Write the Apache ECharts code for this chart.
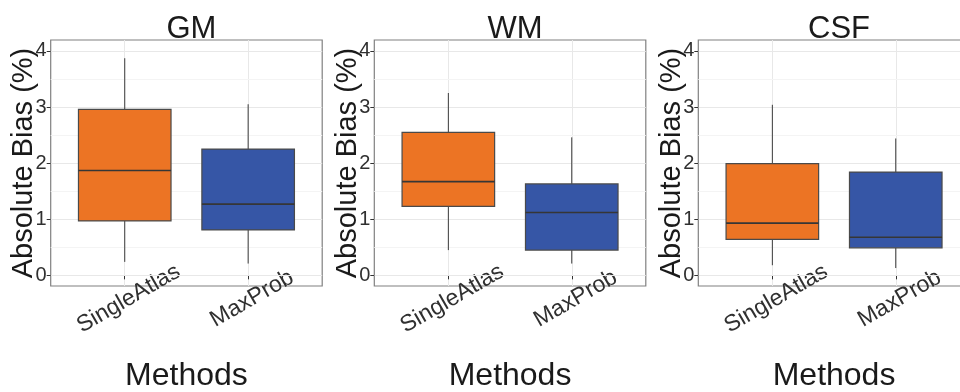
<!DOCTYPE html>
<html>
<head>
<meta charset="utf-8">
<script src="https://cdn.jsdelivr.net/npm/echarts@6/dist/echarts.min.js"></script>
<style>html,body{margin:0;padding:0;background:#fff;}#c{width:960px;height:392px;}</style>
</head>
<body>
<div id="c"></div>
<script>
// ---- data ----
var categories = ['SingleAtlas', 'MaxProb'];
var panelTitles = ['GM', 'WM', 'CSF'];
// [min, Q1, median, Q3, max]
var gmSingleAtlas = [0.24, 0.97, 1.87, 2.96, 3.87];
var gmMaxProb     = [0.21, 0.81, 1.27, 2.25, 3.05];
var wmSingleAtlas = [0.45, 1.23, 1.67, 2.55, 3.25];
var wmMaxProb     = [0.21, 0.45, 1.12, 1.63, 2.46];
var csfSingleAtlas = [0.18, 0.64, 0.93, 1.99, 3.04];
var csfMaxProb     = [0.13, 0.49, 0.68, 1.84, 2.44];
var yTicks = [0, 1, 2, 3, 4];
var yMinorTicks = [0.5, 1.5, 2.5, 3.5];
var xTicks = [1, 2];
var boxColors = ['#EC7424', '#3656A6'];

var panelData = [
  [gmSingleAtlas, gmMaxProb],
  [wmSingleAtlas, wmMaxProb],
  [csfSingleAtlas, csfMaxProb]
];

// ---- layout ----
var FONT = '"Liberation Sans", Arial, Helvetica, sans-serif';
var panelLefts = [50.7, 374.3, 698.3];
var panelWidth = 271.5;
var gTop = 40, gHeight = 246;
var yMin = -0.19, yMax = 4.195;

var chart = echarts.init(document.getElementById('c'), null, {renderer: 'canvas'});

var grids = [], xAxes = [], yAxes = [], series = [], titles = [];

function renderBox(params, api) {
  var x = api.value(0);
  var pMin = api.coord([x, api.value(1)]);
  var pQ1 = api.coord([x, api.value(2)]);
  var pMed = api.coord([x, api.value(3)]);
  var pQ3 = api.coord([x, api.value(4)]);
  var pMax = api.coord([x, api.value(5)]);
  var half = api.size([0.75, 0])[0] / 2;
  var color = boxColors[params.dataIndex];
  return {
    type: 'group',
    children: [
      {type: 'line', shape: {x1: pMax[0], y1: pMax[1], x2: pQ3[0], y2: pQ3[1]},
       style: {stroke: '#3a3a3a', lineWidth: 1}},
      {type: 'line', shape: {x1: pQ1[0], y1: pQ1[1], x2: pMin[0], y2: pMin[1]},
       style: {stroke: '#3a3a3a', lineWidth: 1}},
      {type: 'rect', shape: {x: pQ3[0] - half, y: pQ3[1], width: half * 2, height: pQ1[1] - pQ3[1]},
       style: {fill: color, stroke: '#4a4a4a', lineWidth: 1.2}},
      {type: 'line', shape: {x1: pMed[0] - half, y1: pMed[1], x2: pMed[0] + half, y2: pMed[1]},
       style: {stroke: '#363636', lineWidth: 1.6}}
    ]
  };
}

for (var i = 0; i < 3; i++) {
  grids.push({
    left: panelLefts[i], top: gTop, width: panelWidth, height: gHeight,
    show: true, borderColor: '#808080', borderWidth: 1.2, backgroundColor: 'transparent',
    containLabel: false, outerBoundsMode: 'none'
  });
  titles.push({
    text: panelTitles[i], left: panelLefts[i] + panelWidth / 2, top: 9, textAlign: 'center',
    textStyle: {fontFamily: FONT, fontSize: 31, fontWeight: 'normal', color: '#1a1a1a'}
  });
  xAxes.push({
    type: 'value', gridIndex: i, min: 0.4, max: 2.6,
    name: 'Methods', nameLocation: 'middle', nameGap: 74, nameMoveOverlap: false,
    nameTextStyle: {fontFamily: FONT, fontSize: 32, color: '#1a1a1a'},
    axisLine: {show: false},
    axisTick: {show: true, length: 4, customValues: xTicks, lineStyle: {color: '#333', width: 1}},
    axisLabel: {
      customValues: xTicks, rotate: 30, align: 'center', verticalAlign: 'middle',
      margin: 15, padding: [0, 0, 0, 9],
      fontFamily: FONT, fontSize: 23, color: '#303030',
      formatter: function (v) { return categories[Math.round(v) - 1]; }
    },
    splitLine: {show: true, lineStyle: {color: '#e8e8e8', width: 1}}
  });
  yAxes.push({
    type: 'value', gridIndex: i, min: yMin, max: yMax, position: 'left',
    name: 'Absolute Bias (%)', nameLocation: 'middle', nameGap: 12, nameRotate: 90,
    nameMoveOverlap: false,
    nameTextStyle: {fontFamily: FONT, fontSize: 29, color: '#1a1a1a'},
    axisLine: {show: false},
    axisTick: {show: true, length: 4, customValues: yTicks, lineStyle: {color: '#333', width: 1}},
    axisLabel: {customValues: yTicks, margin: 4, fontFamily: FONT, fontSize: 20, color: '#303030'},
    splitLine: {show: true, lineStyle: {color: '#e8e8e8', width: 1}},
    z: 2
  });
  // minor grid axis
  yAxes.push({
    type: 'value', gridIndex: i, min: yMin, max: yMax, position: 'right',
    axisLine: {show: false},
    axisTick: {show: false, customValues: yMinorTicks},
    axisLabel: {show: false, customValues: yMinorTicks},
    splitLine: {show: true, lineStyle: {color: '#f4f4f4', width: 1}},
    z: 1
  });
  var d = panelData[i].map(function (v, k) { return [xTicks[k]].concat(v); });
  series.push({
    type: 'custom', xAxisIndex: i, yAxisIndex: i * 2,
    renderItem: renderBox,
    encode: {x: 0, y: [1, 2, 3, 4, 5]},
    data: d, z: 5, silent: true
  });
}

chart.setOption({
  animation: false,
  backgroundColor: '#ffffff',
  title: titles,
  grid: grids,
  xAxis: xAxes,
  yAxis: yAxes,
  series: series
});
</script>
</body>
</html>
